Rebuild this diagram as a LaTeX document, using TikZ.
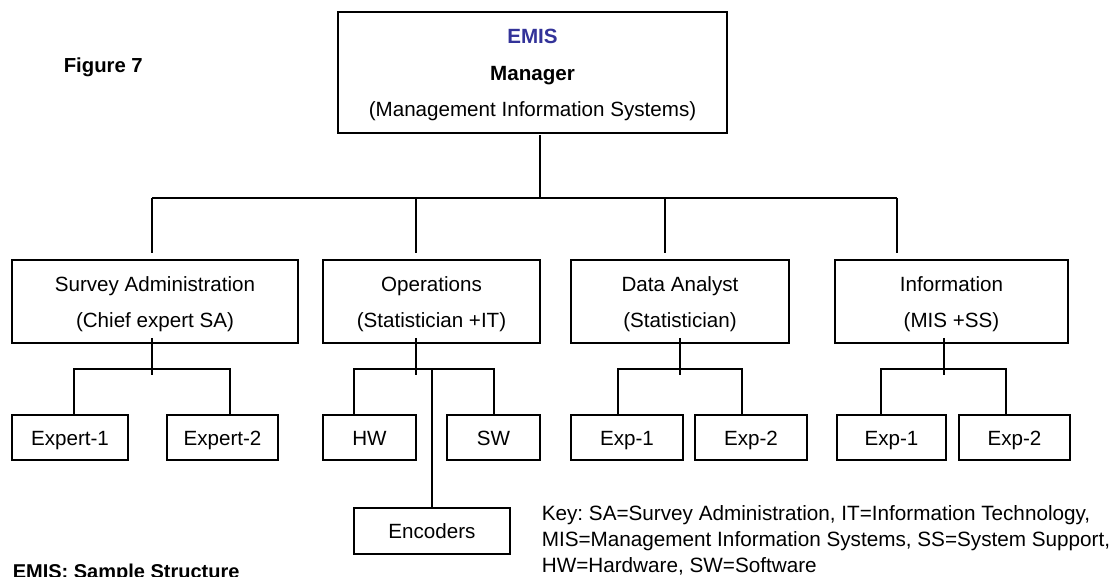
\documentclass[tikz,border=0pt]{standalone}
\usepackage{fontspec}
\setmainfont{Liberation Sans}
\definecolor{emisblue}{RGB}{51,51,153}
\newcommand{\boxstrut}{\rule{0pt}{20pt}}
\frenchspacing
\begin{document}
\begin{tikzpicture}[x=1pt,y=-1pt,line width=1.6pt,
  box/.style={draw,line width=1.6pt,inner sep=0pt,align=center,font=\fontsize{20.6}{36.5}\selectfont},
  leaf/.style={draw,line width=1.6pt,inner sep=0pt,minimum height=45pt,text height=20pt,text depth=4.5pt,font=\fontsize{20.6}{24}\selectfont},
  conn/.style={line width=1.6pt}]
\useasboundingbox (0,0) rectangle (1117,577);
% top
\node[box,minimum width=389pt,minimum height=121pt] (top) at (532.5,72.5)
  {\boxstrut{\bfseries\color{emisblue}EMIS}\\{\bfseries Manager}\\(Management Information Systems)};
% level 2
\node[box,minimum width=286pt,minimum height=83pt] (sa) at (155,301.5) {\boxstrut Survey Administration\\(Chief expert SA)};
\node[box,minimum width=217pt,minimum height=83pt] (ops) at (431.5,301.5) {\boxstrut Operations\\(Statistician +IT)};
\node[box,minimum width=218pt,minimum height=83pt] (da) at (680,301.5) {\boxstrut Data Analyst\\(Statistician)};
\node[box,minimum width=233pt,minimum height=83pt] (info) at (951.5,301.5) {\boxstrut Information\\(MIS +SS)};
% leaves
\node[leaf,minimum width=116pt] (sae1) at (70,437.5) {Expert-1};
\node[leaf,minimum width=111pt] (sae2) at (222.5,437.5) {Expert-2};
\node[leaf,minimum width=93pt] (hw) at (369.5,437.5) {HW};
\node[leaf,minimum width=93pt] (sw) at (493.5,437.5) {SW};
\node[leaf,minimum width=112pt] (dae1) at (627,437.5) {Exp-1};
\node[leaf,minimum width=112pt] (dae2) at (751,437.5) {Exp-2};
\node[leaf,minimum width=109pt] (ine1) at (891.5,437.5) {Exp-1};
\node[leaf,minimum width=111pt] (ine2) at (1014.5,437.5) {Exp-2};
\node[leaf,minimum width=156pt,minimum height=46pt] (enc) at (432,531) {Encoders};
% texts
\node[anchor=base west,inner sep=0pt,font=\bfseries\fontsize{20.3}{24}\selectfont] (fig) at (63,73) {Figure 7};
\node[anchor=north west,inner sep=0pt,align=left,font=\fontsize{20.7}{26}\selectfont] (key) at (541,505)
  {Key: SA=Survey Administration, IT=Information Technology,\\MIS=Management Information Systems, SS=System Support,\\HW=Hardware, SW=Software};
\node[anchor=base west,inner sep=0pt,font=\bfseries\fontsize{20}{24}\selectfont] (title) at (12,578) {EMIS: Sample Structure};
% top connectors
\coordinate (hub) at (540,198);
\coordinate (hL) at (152,198);
\coordinate (hR) at (897,198);
\coordinate (d2) at (416,198);
\coordinate (d3) at (665,198);
\draw[conn] ([yshift=-1pt]top.south -| hub) -- (hub);
\draw[conn] (hL) -- (hR);
\draw[conn] (hL) -- ([yshift=6pt]hL |- sa.north);
\draw[conn] (d2) -- ([yshift=6pt]d2 |- ops.north);
\draw[conn] (d3) -- ([yshift=6pt]d3 |- da.north);
\draw[conn] (hR) -- ([yshift=6pt]hR |- info.north);
% SA
\coordinate (saj) at (152,369);
\coordinate (saL) at (74,369);
\coordinate (saR) at (230,369);
\draw[conn] ([yshift=6pt]saj |- sa.south) -- ([yshift=-6pt]saj);
\draw[conn] (saL |- sae1.north) -- (saL) -- (saR) -- (saR |- sae2.north);
% Ops
\coordinate (opj) at (416,369);
\coordinate (opL) at (354,369);
\coordinate (opR) at (494,369);
\coordinate (opE) at (432,369);
\draw[conn] ([yshift=6pt]opj |- ops.south) -- ([yshift=-6pt]opj);
\draw[conn] (opL |- hw.north) -- (opL) -- (opR) -- (opR |- sw.north);
\draw[conn] (opE) -- (opE |- enc.north);
% DA
\coordinate (daj) at (680,369);
\coordinate (daL) at (618,369);
\coordinate (daR) at (742,369);
\draw[conn] ([yshift=6pt]daj |- da.south) -- ([yshift=-6pt]daj);
\draw[conn] (daL |- dae1.north) -- (daL) -- (daR) -- (daR |- dae2.north);
% Info
\coordinate (inj) at (944,369);
\coordinate (inL) at (881,369);
\coordinate (inR) at (1006,369);
\draw[conn] ([yshift=6pt]inj |- info.south) -- ([yshift=-6pt]inj);
\draw[conn] (inL |- ine1.north) -- (inL) -- (inR) -- (inR |- ine2.north);
\end{tikzpicture}
\end{document}
